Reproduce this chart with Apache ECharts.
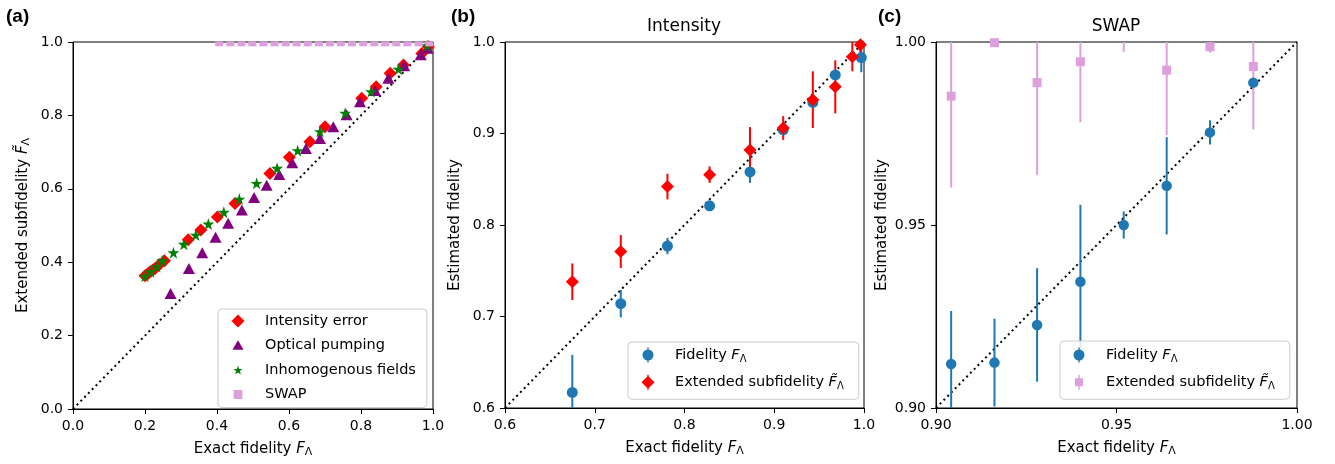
<!DOCTYPE html>
<html>
<head>
<meta charset="utf-8">
<script src="https://cdn.jsdelivr.net/npm/echarts@6/dist/echarts.min.js"></script>
<style>
  html, body { margin: 0; padding: 0; background: #fff; }
  #chart { width: 1335px; height: 464px; }
</style>
</head>
<body>
<div id="chart"></div>
<script>
// ---- (a) extended subfidelity vs exact fidelity for several error models ----
const intensityX = [0.200, 0.207, 0.214, 0.222, 0.228, 0.240, 0.254, 0.320, 0.355, 0.401, 0.450, 0.547, 0.601, 0.658, 0.700, 0.802, 0.842, 0.881, 0.918, 0.969, 0.987];
const intensityY = [0.363, 0.368, 0.374, 0.379, 0.383, 0.394, 0.404, 0.461, 0.488, 0.523, 0.560, 0.642, 0.686, 0.728, 0.769, 0.847, 0.878, 0.915, 0.937, 0.969, 0.987];

const pumpingX = [0.271, 0.322, 0.359, 0.396, 0.431, 0.469, 0.503, 0.538, 0.573, 0.609, 0.647, 0.686, 0.723, 0.760, 0.797, 0.839, 0.876, 0.920, 0.966, 0.985];
const pumpingY = [0.315, 0.383, 0.426, 0.468, 0.506, 0.542, 0.576, 0.610, 0.639, 0.671, 0.710, 0.737, 0.769, 0.802, 0.837, 0.868, 0.901, 0.935, 0.965, 0.983];

const fieldsX = [0.200, 0.216, 0.233, 0.248, 0.279, 0.308, 0.341, 0.376, 0.419, 0.462, 0.510, 0.567, 0.624, 0.686, 0.756, 0.828, 0.904, 0.984];
const fieldsY = [0.362, 0.374, 0.388, 0.404, 0.426, 0.449, 0.474, 0.504, 0.536, 0.572, 0.615, 0.656, 0.704, 0.756, 0.806, 0.865, 0.926, 0.990];

const swapAX = [0.406, 0.437, 0.468, 0.498, 0.529, 0.560, 0.591, 0.621, 0.652, 0.683, 0.714, 0.744, 0.775, 0.806, 0.837, 0.867, 0.898, 0.929, 0.960, 0.990];
const swapAY = [0.995, 0.995, 0.995, 0.995, 0.995, 0.995, 0.995, 0.995, 0.995, 0.995, 0.995, 0.995, 0.995, 0.995, 0.995, 0.995, 0.995, 0.995, 0.995, 0.995];

// ---- (b) Intensity: estimated fidelity with error bars ----
const intFidX   = [0.675, 0.729, 0.781, 0.828, 0.873, 0.910, 0.943, 0.968, 0.997];
const intFidY   = [0.617, 0.714, 0.777, 0.821, 0.858, 0.904, 0.934, 0.964, 0.983];
const intFidErr = [0.041, 0.015, 0.009, 0.003, 0.012, 0.004, 0.004, 0.003, 0.016];

const intExtX   = [0.675, 0.729, 0.781, 0.828, 0.873, 0.910, 0.943, 0.968, 0.987, 0.996];
const intExtY   = [0.738, 0.771, 0.842, 0.855, 0.882, 0.906, 0.937, 0.951, 0.984, 0.997];
const intExtErr = [0.020, 0.018, 0.014, 0.009, 0.025, 0.013, 0.031, 0.029, 0.016, 0.012];

// ---- (c) SWAP: estimated fidelity with error bars ----
const swapX      = [0.9042, 0.9162, 0.9280, 0.9400, 0.9520, 0.9639, 0.9759, 0.9879];
const swapFidY   = [0.9120, 0.9124, 0.9227, 0.9345, 0.9500, 0.9607, 0.9753, 0.9889];
const swapFidErr = [0.0145, 0.0120, 0.0155, 0.0210, 0.0037, 0.0133, 0.0033, 0.0008];
const swapExtY   = [0.9852, 0.9998, 0.9889, 0.9946, 1.0009, 0.9923, 0.9987, 0.9933];
const swapExtErr = [0.0250, 0.0010, 0.0252, 0.0165, 0.0036, 0.0177, 0.0016, 0.0172];

// ---- axis ticks ----
const ticksA = [0.0, 0.2, 0.4, 0.6, 0.8, 1.0];
const ticksB = [0.6, 0.7, 0.8, 0.9, 1.0];
const ticksC = [0.90, 0.95, 1.00];

const FONT = 'DejaVu Sans';
const BLUE = '#1f77b4', RED = '#ff0000', PURPLE = '#800080', GREEN = '#008000', PLUM = '#dda0dd';

const zip = (xs, ys, es) => xs.map((x, i) => es ? [x, ys[i], es[i]] : [x, ys[i]]);

// five-pointed star marker
const STAR = 'path://M50,0 L61.23,34.55 L97.55,34.55 L68.17,55.9 L79.39,90.45 L50,69.1 L20.61,90.45 L31.83,55.9 L2.45,34.55 L38.77,34.55 Z';

// legend icons drawn in a 16x16 frame (tiny corner anchors keep the frame size)
const FRAME = 'M0,0 L0.05,0 L0,0.05 Z M16,16 L15.95,16 L16,15.95 Z ';
const BAR = ' M7.3,0.5 L8.7,0.5 L8.7,15.5 L7.3,15.5 Z';
const ICON = {
  diamond: 'path://' + FRAME + 'M8,1.5 L14.5,8 L8,14.5 L1.5,8 Z',
  triangle: 'path://' + FRAME + 'M8,2.8 L13.5,12.3 L2.5,12.3 Z',
  star: 'path://' + FRAME + 'M8,3.5 L9.12,6.96 L12.76,6.96 L9.82,9.09 L10.94,12.55 L8,10.41 L5.06,12.55 L6.18,9.09 L3.25,6.96 L6.88,6.96 Z',
  square: 'path://' + FRAME + 'M3.6,3.6 L12.4,3.6 L12.4,12.4 L3.6,12.4 Z',
  circleBar: 'path://' + FRAME + 'M2.5,8 A5.5,5.5 0 1 1 13.5,8 A5.5,5.5 0 1 1 2.5,8 Z' + BAR,
  diamondBar: 'path://' + FRAME + 'M8,1.5 L14.5,8 L8,14.5 L1.5,8 Z' + BAR,
  squareBar: 'path://' + FRAME + 'M4,4 L12,4 L12,12 L4,12 Z' + BAR
};

const mathRich = (size) => ({
  i: { fontFamily: FONT, fontSize: size, fontStyle: 'italic', color: '#000', lineHeight: 18 },
  sub: { fontFamily: FONT, fontSize: Math.round(size * 0.72), color: '#000', lineHeight: 9, verticalAlign: 'bottom' },
  s: { width: 14, fontSize: size, lineHeight: 18 }
});

const legendText = {
  'Intensity error': 'Intensity error',
  'Optical pumping': 'Optical pumping',
  'Inhomogenous fields': 'Inhomogenous fields',
  'SWAP': 'SWAP',
  'Intensity fidelity': 'Fidelity {i|F}{sub|\u039B}',
  'Intensity extended subfidelity': 'Extended subfidelity {i|F\u0303}{sub|\u039B}',
  'SWAP fidelity': 'Fidelity {i|F}{sub|\u039B}',
  'SWAP extended subfidelity': 'Extended subfidelity {i|F\u0303}{sub|\u039B}'
};

function step(t) { return Math.round((t[1] - t[0]) * 1e6) / 1e6; }

function axis(gridIndex, ticks, digits, isX, name, nameGap) {
  return {
    type: 'value',
    gridIndex,
    min: ticks[0],
    max: ticks[ticks.length - 1],
    interval: step(ticks),
    name,
    nameLocation: 'middle',
    nameGap,
    nameTextStyle: { fontFamily: FONT, fontSize: 15, color: '#000', lineHeight: 18, rich: mathRich(15) },
    axisLine: { show: true, onZero: false, lineStyle: { color: '#000', width: 1 } },
    axisTick: { show: true, inside: false, length: 5, lineStyle: { color: '#000', width: 1 } },
    axisLabel: {
      show: true, fontFamily: FONT, fontSize: 14, color: '#000',
      margin: 10, showMinLabel: true, showMaxLabel: true,
      formatter: (v) => v.toFixed(digits)
    },
    splitLine: { show: false }
  };
}

function errorBar(params, api) {
  const x = api.value(0), y = api.value(1), e = api.value(2);
  const lo = api.coord([x, y - e]);
  const hi = api.coord([x, y + e]);
  return {
    type: 'line',
    shape: { x1: lo[0], y1: lo[1], x2: hi[0], y2: hi[1] },
    style: { stroke: api.visual('color'), lineWidth: 2 }
  };
}

function diagonal(idx, lo) {
  return {
    type: 'line', xAxisIndex: idx, yAxisIndex: idx, silent: true, symbol: 'none',
    data: [[lo, lo], [1, 1]],
    lineStyle: { color: '#000', width: 2, type: [2, 3.4] },
    z: 1
  };
}

function scatter(idx, name, data, symbol, size, color) {
  return {
    type: 'scatter', name, xAxisIndex: idx, yAxisIndex: idx, data,
    symbol, symbolSize: size, itemStyle: { color, opacity: 1 }, clip: true, z: 3
  };
}

function bars(idx, name, data, color) {
  return {
    type: 'custom', name, xAxisIndex: idx, yAxisIndex: idx, data,
    encode: { x: 0, y: 1 }, itemStyle: { color }, renderItem: errorBar, clip: true, silent: true, z: 3
  };
}

function legend(left, top, padding, gap, lineHeight, items) {
  return {
    orient: 'vertical', left, top, padding, itemGap: gap,
    itemWidth: 16, itemHeight: 16,
    borderColor: '#cccccc', borderWidth: 1, borderRadius: 4,
    backgroundColor: 'rgba(255,255,255,0.85)',
    selectedMode: false,
    textStyle: { fontFamily: FONT, fontSize: 14.5, color: '#000', lineHeight, rich: mathRich(14.5) },
    formatter: (name) => '{s| }' + legendText[name],
    data: items.map(([name, icon, color]) => ({ name, icon: ICON[icon], itemStyle: { color } }))
  };
}

const chart = echarts.init(document.getElementById('chart'), null, { renderer: 'canvas' });

chart.setOption({
  animation: false,
  backgroundColor: '#fff',
  grid: [
    { left: 73, top: 42, width: 360, height: 367, show: true, borderColor: '#000', borderWidth: 1, backgroundColor: 'transparent', outerBoundsMode: 'none' },
    { left: 505, top: 42, width: 359, height: 366, show: true, borderColor: '#000', borderWidth: 1, backgroundColor: 'transparent', outerBoundsMode: 'none' },
    { left: 936, top: 42, width: 361, height: 366, show: true, borderColor: '#000', borderWidth: 1, backgroundColor: 'transparent', outerBoundsMode: 'none' }
  ],
  xAxis: [
    axis(0, ticksA, 1, true, 'Exact fidelity {i|F}{sub|\u039B}', 31),
    axis(1, ticksB, 1, true, 'Exact fidelity {i|F}{sub|\u039B}', 31),
    axis(2, ticksC, 2, true, 'Exact fidelity {i|F}{sub|\u039B}', 31)
  ],
  yAxis: [
    axis(0, ticksA, 1, false, 'Extended subfidelity {i|F\u0303}{sub|\u039B}', 41),
    axis(1, ticksB, 1, false, 'Estimated fidelity', 41),
    axis(2, ticksC, 2, false, 'Estimated fidelity', 42)
  ],
  legend: [
    legend(218, 309, [3, 11, 4, 12], 6.5, 16, [
      ['Intensity error', 'diamond', RED],
      ['Optical pumping', 'triangle', PURPLE],
      ['Inhomogenous fields', 'star', GREEN],
      ['SWAP', 'square', PLUM]
    ]),
    legend(628, 342, [4, 15, 8, 12], 9.3, 18, [
      ['Intensity fidelity', 'circleBar', BLUE],
      ['Intensity extended subfidelity', 'diamondBar', RED]
    ]),
    legend(1060, 341, [5, 15, 8, 11], 9.3, 18, [
      ['SWAP fidelity', 'circleBar', BLUE],
      ['SWAP extended subfidelity', 'squareBar', PLUM]
    ])
  ],
  graphic: [
    { type: 'text', left: 6, top: 7, style: { text: '(a)', font: 'bold 19px "Liberation Sans"', fill: '#000' } },
    { type: 'text', left: 451, top: 7, style: { text: '(b)', font: 'bold 19px "Liberation Sans"', fill: '#000' } },
    { type: 'text', left: 878, top: 7, style: { text: '(c)', font: 'bold 19px "Liberation Sans"', fill: '#000' } },
    { type: 'text', x: 684, y: 27, style: { text: 'Intensity', font: '17px "DejaVu Sans"', fill: '#000', align: 'center', verticalAlign: 'middle' } },
    { type: 'text', x: 1116, y: 27, style: { text: 'SWAP', font: '17px "DejaVu Sans"', fill: '#000', align: 'center', verticalAlign: 'middle' } }
  ],
  series: [
    diagonal(0, 0),
    scatter(0, 'Intensity error', zip(intensityX, intensityY), 'diamond', [13, 13], RED),
    scatter(0, 'Optical pumping', zip(pumpingX, pumpingY), 'triangle', [12, 11], PURPLE),
    scatter(0, 'Inhomogenous fields', zip(fieldsX, fieldsY), STAR, 12, GREEN),
    scatter(0, 'SWAP', zip(swapAX, swapAY), 'rect', [8, 5], PLUM),

    diagonal(1, 0.6),
    bars(1, 'Intensity fidelity', zip(intFidX, intFidY, intFidErr), BLUE),
    scatter(1, 'Intensity fidelity', zip(intFidX, intFidY), 'circle', 11, BLUE),
    bars(1, 'Intensity extended subfidelity', zip(intExtX, intExtY, intExtErr), RED),
    scatter(1, 'Intensity extended subfidelity', zip(intExtX, intExtY), 'diamond', [13, 13], RED),

    diagonal(2, 0.9),
    bars(2, 'SWAP fidelity', zip(swapX, swapFidY, swapFidErr), BLUE),
    scatter(2, 'SWAP fidelity', zip(swapX, swapFidY), 'circle', 10.5, BLUE),
    bars(2, 'SWAP extended subfidelity', zip(swapX, swapExtY, swapExtErr), PLUM),
    scatter(2, 'SWAP extended subfidelity', zip(swapX, swapExtY), 'rect', [9, 9], PLUM)
  ]
});
</script>
</body>
</html>
